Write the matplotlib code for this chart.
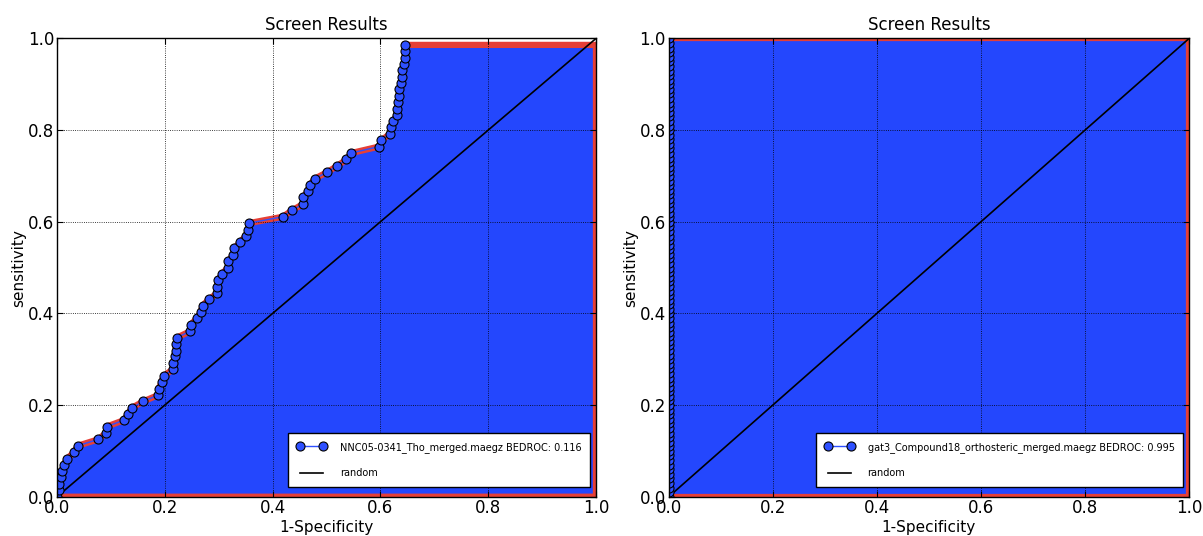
import numpy as np
import matplotlib
matplotlib.use("Agg")
import matplotlib.pyplot as plt

# left screen: ROC points (72 actives)
fpr_a = [0.000, 0.003, 0.004, 0.007, 0.009, 0.013, 0.018, 0.032, 0.038, 0.076, 0.091,
         0.092, 0.124, 0.132, 0.139, 0.160, 0.188, 0.189, 0.194, 0.198, 0.215, 0.216,
         0.218, 0.220, 0.221, 0.222, 0.247, 0.248, 0.259, 0.267, 0.270, 0.282, 0.297,
         0.297, 0.299, 0.306, 0.317, 0.318, 0.327, 0.329, 0.340, 0.350, 0.355, 0.356,
         0.419, 0.436, 0.457, 0.457, 0.465, 0.470, 0.478, 0.501, 0.520, 0.537, 0.546,
         0.597, 0.602, 0.618, 0.619, 0.624, 0.630, 0.631, 0.632, 0.634, 0.635, 0.639,
         0.641, 0.641, 0.644, 0.645, 0.646, 0.646]
tpr_a = [0.000, 0.014, 0.028, 0.042, 0.056, 0.069, 0.083, 0.097, 0.111, 0.125, 0.139,
         0.153, 0.167, 0.181, 0.194, 0.208, 0.222, 0.236, 0.250, 0.264, 0.278, 0.292,
         0.306, 0.319, 0.333, 0.347, 0.361, 0.375, 0.389, 0.403, 0.417, 0.431, 0.444,
         0.458, 0.472, 0.486, 0.500, 0.514, 0.528, 0.542, 0.556, 0.569, 0.583, 0.597,
         0.611, 0.625, 0.639, 0.653, 0.667, 0.681, 0.694, 0.708, 0.722, 0.736, 0.750,
         0.764, 0.778, 0.792, 0.806, 0.819, 0.833, 0.847, 0.861, 0.875, 0.889, 0.903,
         0.917, 0.931, 0.944, 0.958, 0.972, 0.986]
label_a = "NNC05-0341_Tho_merged.maegz BEDROC: 0.116"

# right screen: every active found before any decoy
tpr_b = [0.00, 0.01, 0.02, 0.03, 0.04, 0.05, 0.06, 0.07, 0.08, 0.09, 0.10, 0.11, 0.12,
         0.13, 0.14, 0.15, 0.16, 0.17, 0.18, 0.19, 0.20, 0.21, 0.22, 0.23, 0.24, 0.25,
         0.26, 0.27, 0.28, 0.29, 0.30, 0.31, 0.32, 0.33, 0.34, 0.35, 0.36, 0.37, 0.38,
         0.39, 0.40, 0.41, 0.42, 0.43, 0.44, 0.45, 0.46, 0.47, 0.48, 0.49, 0.50, 0.51,
         0.52, 0.53, 0.54, 0.55, 0.56, 0.57, 0.58, 0.59, 0.60, 0.61, 0.62, 0.63, 0.64,
         0.65, 0.66, 0.67, 0.68, 0.69, 0.70, 0.71, 0.72, 0.73, 0.74, 0.75, 0.76, 0.77,
         0.78, 0.79, 0.80, 0.81, 0.82, 0.83, 0.84, 0.85, 0.86, 0.87, 0.88, 0.89, 0.90,
         0.91, 0.92, 0.93, 0.94, 0.95, 0.96, 0.97, 0.98, 0.99, 1.00]
fpr_b = [0.0] * len(tpr_b)
label_b = "gat3_Compound18_orthosteric_merged.maegz BEDROC: 0.995"

ticks = [0.0, 0.2, 0.4, 0.6, 0.8, 1.0]

BLUE = '#2447fd'
MARK = '#2e50ff'
RED = '#e63f36'


def roc_panel(ax, fpr, tpr, label):
    ax.set_axisbelow(False)
    # area under the curve, closed off at fpr = 1
    xs = list(fpr) + [1.0]
    ys = list(tpr) + [tpr[-1]]
    ax.fill_between(xs, 0, ys, color=BLUE, lw=0, zorder=1)
    # red outline round the area
    ax.plot(xs + [1.0, 0.0], ys + [0.0, 0.0], color=RED, lw=4.5, zorder=1.5,
            solid_joinstyle='miter')
    ax.plot(fpr, tpr, '-o', color=MARK, lw=1, ms=6.5, mec='black', mew=0.8,
            mfc=MARK, zorder=3, label=label)
    ax.plot([0, 1], [0, 1], color='black', lw=1.2, zorder=2.6, label='random')

    ax.set_xlim(0, 1)
    ax.set_ylim(0, 1)
    ax.set_xticks(ticks)
    ax.set_yticks(ticks)
    ax.set_xticklabels(["%.1f" % t for t in ticks])
    ax.set_yticklabels(["%.1f" % t for t in ticks])
    ax.grid(True, linestyle=':', color='black', lw=0.6)
    ax.tick_params(direction='in', top=True, right=True, length=4, labelsize=12, pad=2)
    for s in ax.spines.values():
        s.set_linewidth(1.0)
        s.set_zorder(4)
    ax.set_title("Screen Results", fontsize=12, pad=6)
    ax.set_xlabel("1-Specificity", fontsize=11, labelpad=2)
    ax.set_ylabel("sensitivity", fontsize=11, labelpad=1)
    leg = ax.legend(loc='lower right', bbox_to_anchor=(0.989, 0.021),
                    fontsize=7, numpoints=2, fancybox=False,
                    framealpha=1, edgecolor='black', labelspacing=1.6,
                    handlelength=3.0, handletextpad=1.4, borderpad=0.9,
                    borderaxespad=0)
    leg.get_frame().set_linewidth(1.0)
    leg.set_zorder(5)


fig = plt.figure(figsize=(12.03, 5.36), dpi=100)
ax1 = fig.add_axes([0.0474, 0.0733, 0.448, 0.8549])
ax2 = fig.add_axes([0.5559, 0.0733, 0.4325, 0.8549])

roc_panel(ax1, fpr_a, tpr_a, label_a)
roc_panel(ax2, fpr_b, tpr_b, label_b)

fig.savefig('out.png', dpi=100)
